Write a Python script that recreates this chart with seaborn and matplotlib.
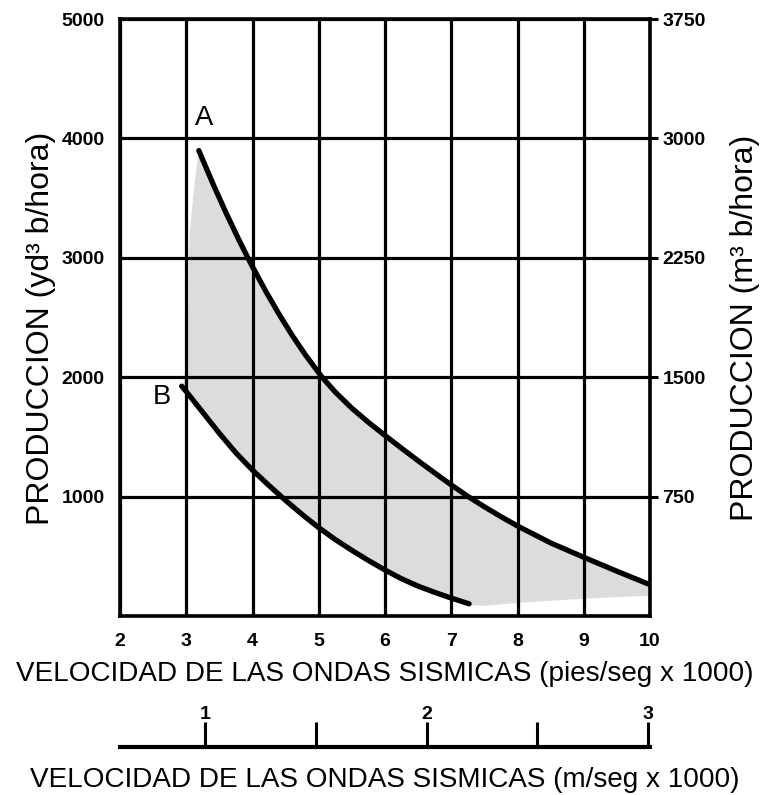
import matplotlib
matplotlib.use("Agg")
import matplotlib.pyplot as plt
from matplotlib import font_manager as fm
import seaborn as sns
import pandas as pd

# ---------------- data ----------------
curve_a_x = [3.19, 3.4, 3.6, 3.8, 3.93, 4.0, 4.2, 4.4, 4.6, 4.8, 5.05, 5.25, 5.5,
             5.75, 6.0, 6.25, 6.5, 6.75, 7.0, 7.25, 7.5, 7.75, 8.0, 8.5, 9.0, 9.5, 10.0]
curve_a_y = [3898, 3624, 3377, 3144, 3000, 2925, 2720, 2528, 2350, 2186, 2000, 1875, 1740,
             1622, 1512, 1405, 1300, 1198, 1098, 1002, 915, 832, 754, 612, 492, 375, 262]

curve_b_x = [2.93, 3.0, 3.25, 3.5, 3.75, 4.0, 4.25, 4.5, 4.75, 5.0, 5.25, 5.5, 5.75,
             6.0, 6.25, 6.5, 6.75, 7.0, 7.27]
curve_b_y = [1925, 1880, 1705, 1530, 1366, 1222, 1092, 968, 850, 740, 640, 550, 465,
             385, 312, 250, 198, 150, 102]

# lower edge of the shaded band (right side, from x=10 back to end of B)
shade_bottom_x = [10.0, 9.0, 8.0, 7.5, 7.3]
shade_bottom_y = [170, 145, 110, 85, 90]
# left edge of the shaded band (from start of B up to start of A)
shade_left_x = [2.95, 3.0, 3.03, 3.05, 3.12]
shade_left_y = [1930, 2100, 2600, 3200, 3600]

x_ticks = [2, 3, 4, 5, 6, 7, 8, 9, 10]
y_ticks_left = [1000, 2000, 3000, 4000, 5000]
y_ticks_right = [750, 1500, 2250, 3000, 3750]
m_ticks = [1, 1.5, 2, 2.5, 3]
m_tick_labels = ["1", "", "2", "", "3"]
m_limits = (0.614, 3.01)   # m/seg x1000 range spanned by the lower scale

# ---------------- style ----------------
sns.set_theme(style="white")


def has_font(name):
    try:
        fm.findfont(fm.FontProperties(family=name), fallback_to_default=False)
        return True
    except Exception:
        return False


REG = "Liberation Sans" if has_font("Liberation Sans") else "DejaVu Sans"
NARROW_OK = has_font("Liberation Sans Narrow")
NARROW = "Liberation Sans Narrow" if NARROW_OK else REG
nscale = 1.0 if NARROW_OK else 0.82

plt.rcParams["font.family"] = [REG, "DejaVu Sans"]
plt.rcParams["text.color"] = "black"
plt.rcParams["axes.labelcolor"] = "black"
plt.rcParams["xtick.color"] = "black"
plt.rcParams["ytick.color"] = "black"
plt.rcParams["xtick.labelcolor"] = "black"
plt.rcParams["ytick.labelcolor"] = "black"

fig = plt.figure(figsize=(7.66, 7.95), dpi=100)
L, R = 120 / 766, 650 / 766
B_, T_ = (795 - 616) / 795, (795 - 19) / 795
ax = fig.add_axes([L, B_, R - L, T_ - B_])

# shaded band
poly_x = curve_a_x + shade_bottom_x + curve_b_x[::-1] + shade_left_x
poly_y = curve_a_y + shade_bottom_y + curve_b_y[::-1] + shade_left_y
ax.fill(poly_x, poly_y, color="#dcdcdc", lw=0, zorder=1)

# curves
df_a = pd.DataFrame({"x": curve_a_x, "y": curve_a_y})
df_b = pd.DataFrame({"x": curve_b_x, "y": curve_b_y})
for df in (df_a, df_b):
    sns.lineplot(data=df, x="x", y="y", ax=ax, color="black", lw=3.8, zorder=4,
                 estimator=None, sort=False)
for ln in ax.lines:
    ln.set_solid_joinstyle("round")

ax.set_xlim(2, 10)
ax.set_ylim(0, 5000)
ax.set_xticks(x_ticks)
ax.set_xticklabels([str(v) for v in x_ticks])
ax.set_yticks(y_ticks_left)
ax.set_yticklabels([str(v) for v in y_ticks_left])
ax.grid(True, color="black", lw=2.3)
ax.set_axisbelow(False)
for s in ax.spines.values():
    s.set_visible(True)
    s.set_color("black")
    s.set_linewidth(2.6)
    s.set_zorder(5)
ax.tick_params(axis="both", length=0)
ax.tick_params(axis="y", pad=11)
ax.tick_params(axis="x", pad=12)
for t in ax.get_yticklabels():
    t.set_fontsize(14)
    t.set_fontweight("bold")
    t.set_family([REG, "DejaVu Sans"])
for t in ax.get_xticklabels():
    t.set_fontsize(14)
    t.set_fontweight("bold")
    t.set_family([NARROW, "DejaVu Sans"])

ax.set_xlabel("VELOCIDAD DE LAS ONDAS SISMICAS (pies/seg x 1000)",
              fontsize=24.5 * nscale, family=[NARROW, "DejaVu Sans"], labelpad=8)
ax.set_ylabel("PRODUCCION (yd³ b/hora)", fontsize=23, family=[REG, "DejaVu Sans"])
ax.yaxis.set_label_coords(-0.121, 0.482)

ax.text(3.27, 4060, "A", fontsize=24 * nscale, family=[NARROW, "DejaVu Sans"],
        ha="center", va="bottom", zorder=6)
ax.text(2.63, 1834, "B", fontsize=24 * nscale, family=[NARROW, "DejaVu Sans"],
        ha="center", va="center", zorder=6)

# right axis
ax2 = ax.twinx()
ax2.set_ylim(0, 3750)
ax2.set_yticks(y_ticks_right)
ax2.set_yticklabels([str(v) for v in y_ticks_right])
ax2.tick_params(axis="y", direction="out", length=6, width=2.2, color="black",
                pad=3, right=True)
for t in ax2.get_yticklabels():
    t.set_fontsize(14)
    t.set_fontweight("bold")
for s in ax2.spines.values():
    s.set_visible(False)
ax2.grid(False)
ax2.set_ylabel("PRODUCCION (m³ b/hora)", fontsize=23, family=[REG, "DejaVu Sans"],
               rotation=90)
ax2.yaxis.set_label_coords(1.151, 0.482)

# lower scale in m/seg
line_y = (795 - 747) / 795
ax3 = fig.add_axes([L, line_y - 0.001, R - L, 0.001])
ax3.set_xlim(*m_limits)
ax3.set_yticks([])
ax3.set_facecolor("none")
for k, s in ax3.spines.items():
    s.set_visible(k == "top")
ax3.spines["top"].set_linewidth(3.0)
ax3.spines["top"].set_color("black")
ax3.xaxis.tick_top()
ax3.set_xticks(m_ticks)
ax3.set_xticklabels(m_tick_labels)
ax3.tick_params(axis="x", direction="out", length=18, width=2.2, color="black",
                pad=-1, top=True, bottom=False)
for t in ax3.get_xticklabels():
    t.set_fontsize(14)
    t.set_fontweight("bold")
    t.set_family([NARROW, "DejaVu Sans"])
ax3.xaxis.set_label_position("bottom")
ax3.set_xlabel("VELOCIDAD DE LAS ONDAS SISMICAS (m/seg x 1000)",
               fontsize=24.5 * nscale, family=[NARROW, "DejaVu Sans"], labelpad=14)

fig.savefig("out.png", dpi=100, facecolor="white")
